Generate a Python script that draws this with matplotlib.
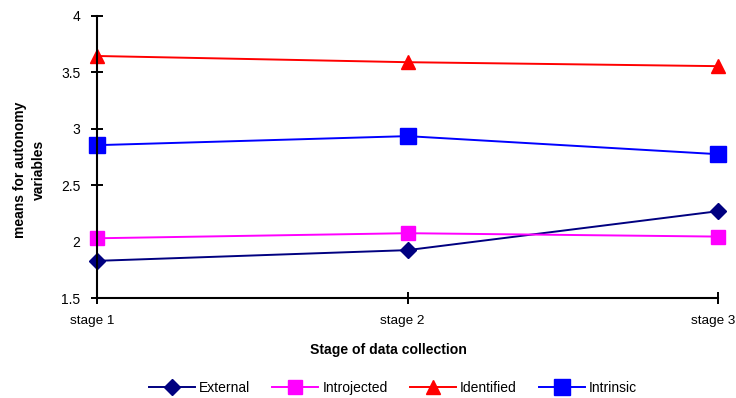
import matplotlib
matplotlib.use("Agg")
import matplotlib.pyplot as plt
import matplotlib.transforms as mtransforms

plt.rcParams['font.family'] = ['Liberation Sans', 'DejaVu Sans']

stages = ["stage 1", "stage 2", "stage 3"]
external = [1.83, 1.925, 2.27]
introjected = [2.03, 2.075, 2.045]
identified = [3.645, 3.59, 3.555]
intrinsic = [2.855, 2.935, 2.775]

fig = plt.figure(figsize=(7.36, 3.98), dpi=100)
ax = fig.add_axes([0.132, 0.251, 0.8435, 0.709])

x = range(len(stages))
ax.plot(x, external, color="#000080", marker="D", markersize=8, lw=1.4, label="External")
ax.plot(x, introjected, color="#FF00FF", marker="s", markersize=10, lw=1.4, label="Introjected")
ax.plot(x, identified, color="#FF0000", marker="^", markersize=10, lw=1.4, label="Identified")
ax.plot(x, intrinsic, color="#0000FF", marker="s", markersize=11.5, lw=1.4, label="Intrinsic")
for line in ax.get_lines():
    line.set_clip_on(False)

ax.set_xlim(0, 2)
ax.set_ylim(1.5, 4)
ax.set_yticks([1.5, 2, 2.5, 3, 3.5, 4])
ax.set_yticklabels(["1.5", "2", "2.5", "3", "3.5", "4"])
ax.set_xticks(list(x))
ax.set_xticklabels(stages)
for sp in ["top", "right"]:
    ax.spines[sp].set_visible(False)
for sp in ["left", "bottom"]:
    ax.spines[sp].set_linewidth(1.5)
ax.tick_params(axis="both", direction="inout", length=8, width=1.4, labelsize=10)
ax.tick_params(axis="x", pad=8, labelsize=9.7)
ax.tick_params(axis="y", pad=8)

# category labels sit a bit left of their ticks
shift = mtransforms.ScaledTranslation(-5 / 100, 0, fig.dpi_scale_trans)
for lbl in ax.get_xticklabels():
    lbl.set_transform(lbl.get_transform() + shift)

ax.set_xlabel("Stage of data collection", fontsize=10.1, fontweight="bold")
ax.xaxis.set_label_coords(0.470, -0.16)
ax.set_ylabel("means for autonomy\nvariables", fontsize=10, fontweight="bold", linespacing=1.5)
ax.yaxis.set_label_coords(-0.082, 0.454)

fig.legend(loc="center", bbox_to_anchor=(393 / 736, 1 - 388 / 398), ncol=4, frameon=False,
           fontsize=10, handlelength=3.3, columnspacing=1.6, handletextpad=0.3)

fig.savefig("out.png", dpi=100)
